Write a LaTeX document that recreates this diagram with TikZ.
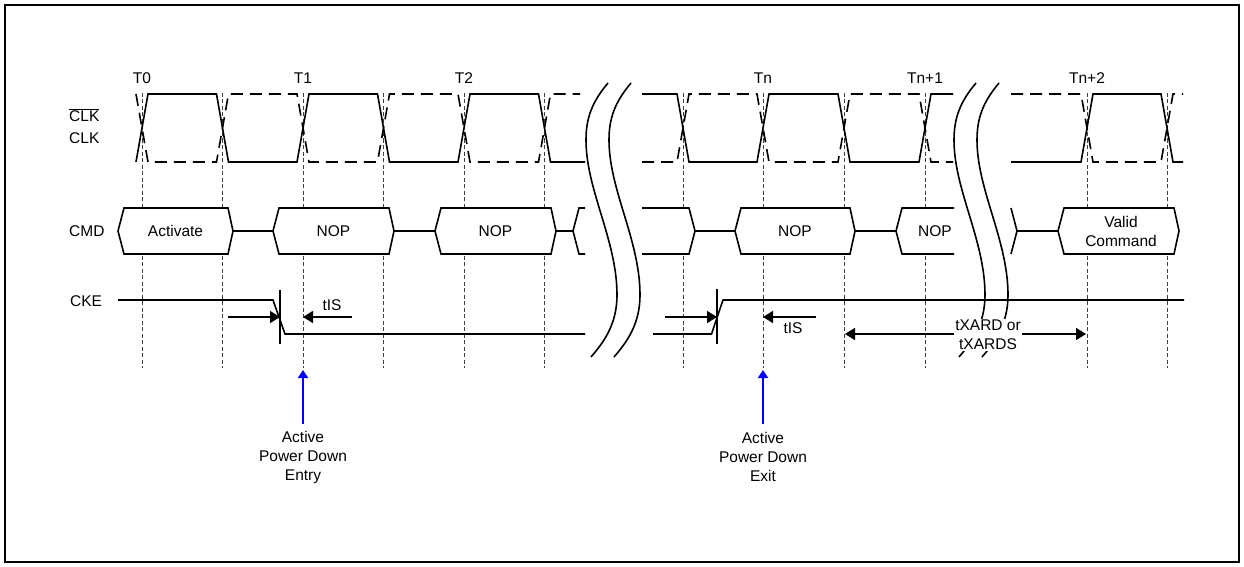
\documentclass[tikz,border=0pt]{standalone}
\usepackage{fontspec}
\setmainfont{Liberation Sans}
\usetikzlibrary{arrows.meta,positioning}

\begin{document}
\begin{tikzpicture}[x=1pt,y=-1pt,>={Triangle[length=10pt,width=12pt]},font=\fontsize{15.5}{19}\selectfont]
\tikzstyle{clk}=[line width=1.6pt]
\tikzstyle{clkn}=[line width=1.6pt,dash pattern=on 12pt off 7pt]
\tikzstyle{edgeline}=[black!75,line width=0.8pt,dash pattern=on 4pt off 2.5pt]
\tikzstyle{bus}=[line width=1.6pt,fill=white]
\tikzstyle{sig}=[line width=1.6pt]
\tikzstyle{lbl}=[inner sep=0pt,anchor=base west]
\tikzstyle{evt}=[blue,line width=2pt,-{Triangle[length=8pt,width=10pt]}]
\useasboundingbox (0,0) rectangle (1244,567);
\draw[line width=2.6pt] (5,5) rectangle (1239,562);
\foreach \x in {142,222.5,303,383.5,464,544.5,683,763,844,925,1087,1167} \draw[edgeline] (\x,93) -- (\x,368);
\foreach \x/\t/\n in {142/T0/t0,303/T1/t1,464/T2/t2,763/Tn/tn,925/Tn+1/tna,1087/Tn+2/tnb} \node[inner sep=0pt,anchor=base] (\n) at (\x,83.3) {\t};
\node[lbl] (lclkb) at (69,121.7) {$\overline{\mbox{CLK}}$}; \node[lbl] (lclk) at (69,143.3) {CLK};
\node[lbl] (lcmd) at (69,236) {CMD}; \node[lbl] (lcke) at (70,306) {CKE};
\draw[clk] (136,162)--(148,94)--(216.5,94)--(228.5,162)--(297,162)--(309,94)--(377.5,94)--(389.5,162)--(458,162)--(470,94)--(538.5,94)--(550.5,162)--(585,162);
\draw[clkn] (136,94)--(148,162)--(216.5,162)--(228.5,94)--(297,94)--(309,162)--(377.5,162)--(389.5,94)--(458,94)--(470,162)--(538.5,162)--(550.5,94)--(580,94);
\draw[clk] (642,94)--(677,94)--(689,162)--(757,162)--(769,94)--(838,94)--(850,162)--(919,162)--(931,94)--(953,94);
\draw[clkn] (642,162)--(677,162)--(689,94)--(757,94)--(769,162)--(838,162)--(850,94)--(919,94)--(931,162)--(953,162);
\draw[clk] (1011,162)--(1081,162)--(1093,94)--(1161,94)--(1173,162)--(1183,162);
\draw[clkn] (1011,94)--(1081,94)--(1093,162)--(1161,162)--(1173,94)--(1183,94);
\foreach \a/\b in {233/273,394/435,556/573,695/735,855/896,1017/1058} \draw[sig] (\a,231) -- (\b,231);
\foreach \a/\b in {118/233,273/394,435/556,735/855,1058/1179} \draw[bus] (\a,231)--(\a+6,208)--(\b-5,208)--(\b,231)--(\b-5,254)--(\a+6,254)--cycle;
\draw[bus] (585,208)--(579,208)--(573,231)--(579,254)--(585,254);
\draw[bus] (642,208)--(689,208)--(695,231)--(689,254)--(642,254);
\draw[bus] (954,208)--(902,208)--(896,231)--(902,254)--(954,254);
\draw[sig] (1011,208)--(1017,231)--(1011,254);
\node (c0) at (175.5,231) {Activate}; \node (c1) at (333.5,231) {NOP}; \node (c2) at (495.5,231) {NOP};
\node (c3) at (795,231) {NOP}; \node (c4) at (935,231) {NOP};
\node[align=center] (c5) at (1121,231) {Valid\\Command};
\draw[sig] (118,300)--(273,300)--(285,334)--(585,334);
\draw[sig] (653,334)--(711.5,334)--(723,300)--(1184,300);
\coordinate (m1) at (280,317); \coordinate (m2) at (717,317);
\draw[sig] (280,290)--(280,344); \draw[sig] (717,289)--(717,344);
\draw[sig,->] (228,317) -- (m1); \draw[sig,->] (352,317) -- (303,317);
\draw[sig,->] (665,317) -- (m2); \draw[sig,->] (815.5,317) -- (763,317);
\node[inner sep=0pt] (tis1) at (332,305) {tIS}; \node[inner sep=0pt] (tis2) at (793,328) {tIS};
\draw[sig,<->] (845,334) -- (1086,334);
\foreach \d in {0,23,368,391} \draw[sig] (608+\d,83) .. controls (592+\d,102) and (586+\d,118) .. (586+\d,140) .. controls (586+\d,190) and (617+\d,240) .. (617+\d,295) .. controls (617+\d,325) and (603+\d,343) .. (591+\d,357);
\node[fill=white,inner sep=1pt,align=center] (txard) at (988,335) {tXARD or\\tXARDS};
\draw[evt] (303,424) -- (303,370); \draw[evt] (763,424) -- (763,370);
\node[align=center] (pde) at (303,457) {Active\\Power Down\\Entry};
\node[align=center] (pdx) at (763,457) {Active\\Power Down\\Exit};
\end{tikzpicture}
\end{document}
